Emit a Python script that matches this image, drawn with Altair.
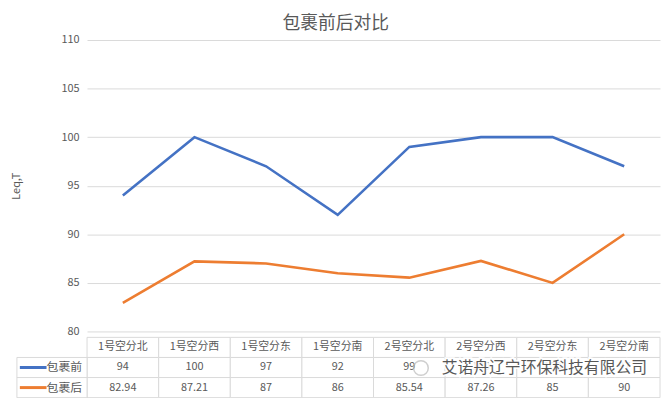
import altair as alt
import pandas as pd

# ---- data ----
categories = ["1号空分北", "1号空分西", "1号空分东", "1号空分南",
              "2号空分北", "2号空分西", "2号空分东", "2号空分南"]
series_names = ["包裹前", "包裹后"]
before = [94, 100, 97, 92, 99, 100, 100, 97]
after = [82.94, 87.21, 87, 86, 85.54, 87.26, 85, 90]
before_labels = ["94", "100", "97", "92", "99", "100", "100", "97"]
after_labels = ["82.94", "87.21", "87", "86", "85.54", "87.26", "85", "90"]
y_ticks = [80, 85, 90, 95, 100, 105, 110]
colors = ["#4472C4", "#ED7D31"]
title_text = "包裹前后对比"
y_title = "Leq,T"
watermark = "艾诺舟辽宁环保科技有限公司"

FONT = "Noto Sans CJK SC"
TXT = "#595959"
GRID = "#d9d9d9"
W, H = 580, 295
ROW_H = 61

long_df = pd.DataFrame({
    "category": categories * 2,
    "series": [series_names[0]] * len(categories) + [series_names[1]] * len(categories),
    "value": before + after,
})

color_scale = alt.Scale(domain=series_names, range=colors)

lines = alt.Chart(long_df).mark_line(strokeWidth=2.6).encode(
    x=alt.X("category:N", sort=categories,
            scale=alt.Scale(type="point", padding=0.5), axis=None),
    y=alt.Y("value:Q", scale=alt.Scale(domain=[80, 110], nice=False, zero=False),
            axis=alt.Axis(values=y_ticks, title=y_title, grid=True, gridColor=GRID,
                          domain=False, ticks=False, labelPadding=8,
                          labelFontSize=11, labelColor=TXT, labelFont=FONT,
                          titleFontSize=11, titleColor=TXT, titleFont=FONT,
                          titleFontWeight="normal", titleX=-71, titleY=H / 2,
                          titleBaseline="middle")),
    color=alt.Color("series:N", scale=color_scale, legend=None),
).properties(width=W, height=H)

# ---- data table below the plot ----
row_order = ["header"] + series_names
tbl = pd.DataFrame({
    "category": categories * 3,
    "row": ["header"] * 8 + [series_names[0]] * 8 + [series_names[1]] * 8,
    "text": categories + before_labels + after_labels,
})

xb = alt.X("category:N", sort=categories,
           scale=alt.Scale(paddingInner=0, paddingOuter=0), axis=None)
yb = alt.Y("row:N", sort=row_order,
           scale=alt.Scale(domain=row_order, paddingInner=0, paddingOuter=0), axis=None)

cells = alt.Chart(tbl).mark_rect(fill="white", stroke=GRID, strokeWidth=1).encode(x=xb, y=yb)
cell_text = alt.Chart(tbl).mark_text(font=FONT, fontSize=11, color=TXT).encode(
    x=xb, y=yb, text="text:N")

leg_df = pd.DataFrame({"row": series_names, "series": series_names})
leg_cells = alt.Chart(leg_df).mark_rect(fill="white", stroke=GRID, strokeWidth=1).encode(
    x=alt.value(-71), x2=alt.value(0), y=yb)
leg_swatch = alt.Chart(leg_df).mark_rule(strokeWidth=3).encode(
    x=alt.value(-68), x2=alt.value(-41), y=yb,
    color=alt.Color("series:N", scale=color_scale, legend=None))
leg_text = alt.Chart(leg_df).mark_text(font=FONT, fontSize=12, color=TXT, align="right").encode(
    x=alt.value(-5), y=yb, text="row:N")

# overlaid watermark (as in the reference picture)
wm_df = pd.DataFrame({"t": [watermark]})
wm_halo = alt.Chart(wm_df).mark_text(font=FONT, fontSize=16, color="white", stroke="white",
                                      strokeWidth=4, align="left", baseline="middle",
                                      opacity=0.9).encode(
    x=alt.value(359), y=alt.value(31), text="t:N")
wm = alt.Chart(wm_df).mark_text(font=FONT, fontSize=16, color="#3a3a3a", align="left",
                                 baseline="middle", opacity=0.85).encode(
    x=alt.value(359), y=alt.value(31), text="t:N")
wm_icon = alt.Chart(wm_df).mark_point(shape="circle", filled=False, size=220,
                                       color="#bbbbbb", strokeWidth=1.5).encode(
    x=alt.value(338), y=alt.value(31))

table = alt.layer(cells, cell_text, leg_cells, leg_swatch, leg_text,
                  wm_halo, wm_icon, wm).properties(width=W, height=ROW_H)

chart = alt.vconcat(lines, table, spacing=0).resolve_scale(
    x="independent", y="independent"
).properties(
    title=alt.TitleParams(title_text, fontSize=18, font=FONT, color=TXT,
                          fontWeight="normal", anchor="middle", offset=1),
    padding={"left": 3, "top": 5, "right": 0, "bottom": 0},
    background="white",
).configure_view(stroke=None)

chart.save("out.html", embed_options={"renderer": "svg", "actions": False})
